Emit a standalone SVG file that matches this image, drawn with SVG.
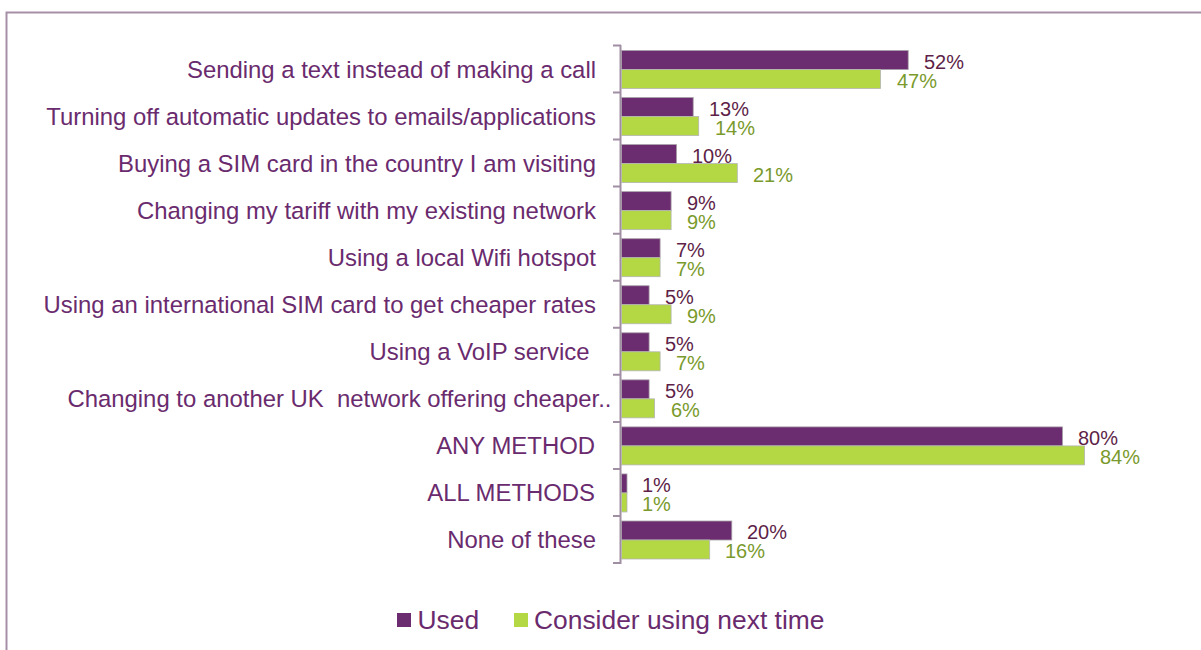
<svg xmlns="http://www.w3.org/2000/svg" width="1201" height="650" viewBox="0 0 1201 650">
<style>
.cat{font-family:"Liberation Sans",Arial,sans-serif;font-size:23.9px;fill:#6A2B6E;text-anchor:end}
.vu{font-family:"Liberation Sans",Arial,sans-serif;font-size:20px;fill:#5E1F48}
.vc{font-family:"Liberation Sans",Arial,sans-serif;font-size:20px;fill:#7A9A2C}
.bu{fill:#6B2D6F;stroke:#A9A0A8;stroke-width:0.8}
.bc{fill:#B3D843;stroke:#B5B5B5;stroke-width:0.8}
.leg{font-family:"Liberation Sans",Arial,sans-serif;font-size:26.4px;fill:#6A2B6E}
.ax{stroke:#A08EA3;stroke-width:2;fill:none}
</style>
<rect width="1201" height="650" fill="#FFFFFF"/>
<path d="M6.5,650 V12.5 H1201" fill="none" stroke="#A590A8" stroke-width="2"/>
<g id="axis">
<path class="ax" d="M620.5,45 V564"/>
<path class="ax" d="M613,45.5 H621 M613,92.5 H621 M613,139.6 H621 M613,186.6 H621 M613,233.7 H621 M613,280.7 H621 M613,327.8 H621 M613,374.8 H621 M613,421.9 H621 M613,468.9 H621 M613,516 H621 M613,563 H621"/>
</g>
<g id="connectors"></g>
<g id="cat-1">
<text class="cat" x="596" y="78">Sending a text instead of making a call</text>
<rect class="bu" x="621.5" y="50.5" width="286.7" height="19"/>
<rect class="bc" x="621.5" y="69.5" width="259.1" height="19"/>
<text class="vu" x="924" y="69">52%</text>
<text class="vc" x="897" y="88">47%</text>
</g>
<g id="cat-2">
<text class="cat" x="596" y="125">Turning off automatic updates to emails/applications</text>
<rect class="bu" x="621.5" y="97.55" width="71.7" height="19"/>
<rect class="bc" x="621.5" y="116.55" width="77.2" height="19"/>
<text class="vu" x="709" y="116">13%</text>
<text class="vc" x="715" y="135">14%</text>
</g>
<g id="cat-3">
<text class="cat" x="596" y="172">Buying a SIM card in the country I am visiting</text>
<rect class="bu" x="621.5" y="144.6" width="55.1" height="19"/>
<rect class="bc" x="621.5" y="163.6" width="115.8" height="19"/>
<text class="vu" x="692" y="163">10%</text>
<text class="vc" x="753" y="182">21%</text>
</g>
<g id="cat-4">
<text class="cat" x="596" y="219">Changing my tariff with my existing network</text>
<rect class="bu" x="621.5" y="191.65" width="49.6" height="19"/>
<rect class="bc" x="621.5" y="210.65" width="49.6" height="19"/>
<text class="vu" x="687" y="210">9%</text>
<text class="vc" x="687" y="229">9%</text>
</g>
<g id="cat-5">
<text class="cat" x="596" y="266">Using a local Wifi hotspot</text>
<rect class="bu" x="621.5" y="238.7" width="38.6" height="19"/>
<rect class="bc" x="621.5" y="257.7" width="38.6" height="19"/>
<text class="vu" x="676" y="257">7%</text>
<text class="vc" x="676" y="276">7%</text>
</g>
<g id="cat-6">
<text class="cat" x="596" y="313">Using an international SIM card to get cheaper rates</text>
<rect class="bu" x="621.5" y="285.75" width="27.6" height="19"/>
<rect class="bc" x="621.5" y="304.75" width="49.6" height="19"/>
<text class="vu" x="665" y="304">5%</text>
<text class="vc" x="687" y="323">9%</text>
</g>
<g id="cat-7">
<text class="cat" x="589.5" y="360">Using a VoIP service</text>
<rect class="bu" x="621.5" y="332.8" width="27.6" height="19"/>
<rect class="bc" x="621.5" y="351.8" width="38.6" height="19"/>
<text class="vu" x="665" y="351">5%</text>
<text class="vc" x="676" y="370">7%</text>
</g>
<g id="cat-8">
<text class="cat" x="611.5" y="407" xml:space="preserve">Changing to another UK  network offering cheaper..</text>
<rect class="bu" x="621.5" y="379.85" width="27.6" height="19"/>
<rect class="bc" x="621.5" y="398.85" width="33.1" height="19"/>
<text class="vu" x="665" y="398">5%</text>
<text class="vc" x="671" y="417">6%</text>
</g>
<g id="cat-9">
<text class="cat" x="595" y="454">ANY METHOD</text>
<rect class="bu" x="621.5" y="426.9" width="441" height="19"/>
<rect class="bc" x="621.5" y="445.9" width="463.1" height="19"/>
<text class="vu" x="1078" y="445">80%</text>
<text class="vc" x="1100" y="464">84%</text>
</g>
<g id="cat-10">
<text class="cat" x="595" y="501">ALL METHODS</text>
<rect class="bu" x="621.5" y="473.95" width="5.5" height="19"/>
<rect class="bc" x="621.5" y="492.95" width="5.5" height="19"/>
<text class="vu" x="642" y="492">1%</text>
<text class="vc" x="642" y="511">1%</text>
</g>
<g id="cat-11">
<text class="cat" x="596" y="548">None of these</text>
<rect class="bu" x="621.5" y="521" width="110.3" height="19"/>
<rect class="bc" x="621.5" y="540" width="88.2" height="19"/>
<text class="vu" x="747" y="539">20%</text>
<text class="vc" x="725" y="558">16%</text>
</g>
<g id="legend">
<rect x="397" y="613" width="14" height="14" fill="#6B2D6F"/>
<text class="leg" x="417.5" y="629">Used</text>
<rect x="514" y="613" width="14" height="14" fill="#B3D843"/>
<text class="leg" x="534" y="629">Consider using next time</text>
</g>
</svg>
